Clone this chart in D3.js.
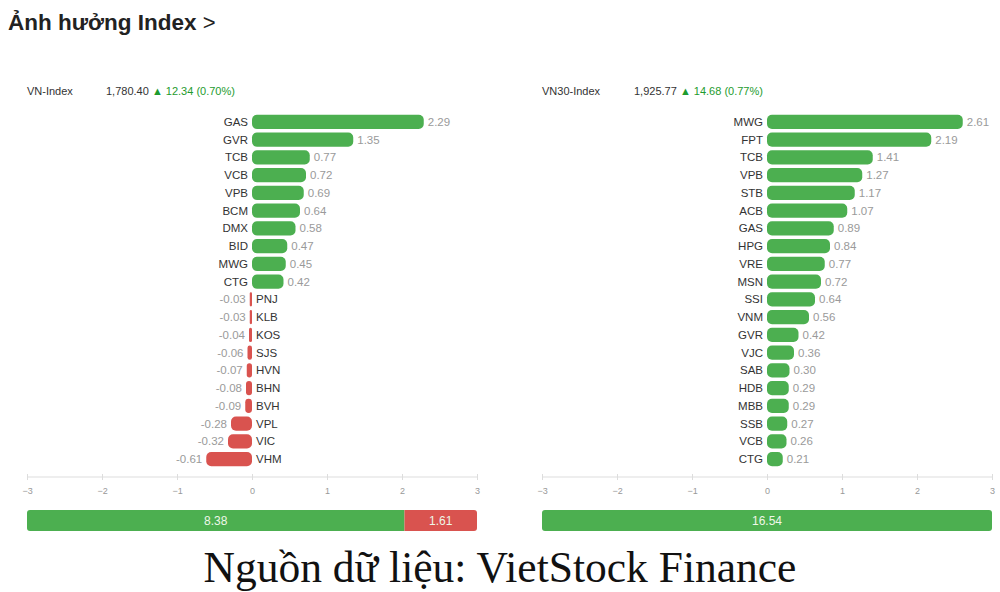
<!DOCTYPE html>
<html>
<head>
<meta charset="utf-8">
<script src="https://cdn.jsdelivr.net/npm/d3@7"></script>
<style>
  body { margin: 0; background: #fff; }
  svg { display: block; }
</style>
</head>
<body>
<svg id="chart" width="1000" height="592"></svg>
<script>
// VN-Index panel
const vnTickers = ["GAS", "GVR", "TCB", "VCB", "VPB", "BCM", "DMX", "BID", "MWG", "CTG",
  "PNJ", "KLB", "KOS", "SJS", "HVN", "BHN", "BVH", "VPL", "VIC", "VHM"];
const vnValues = [2.29, 1.35, 0.77, 0.72, 0.69, 0.64, 0.58, 0.47, 0.45, 0.42,
  -0.03, -0.03, -0.04, -0.06, -0.07, -0.08, -0.09, -0.28, -0.32, -0.61];
const vnHeader = ["VN-Index", "1,780.40", "12.34 (0.70%)"];
const vnTotals = [8.38, 1.61];

// VN30-Index panel
const vn30Tickers = ["MWG", "FPT", "TCB", "VPB", "STB", "ACB", "GAS", "HPG", "VRE", "MSN",
  "SSI", "VNM", "GVR", "VJC", "SAB", "HDB", "MBB", "SSB", "VCB", "CTG"];
const vn30Values = [2.61, 2.19, 1.41, 1.27, 1.17, 1.07, 0.89, 0.84, 0.77, 0.72,
  0.64, 0.56, 0.42, 0.36, 0.30, 0.29, 0.29, 0.27, 0.26, 0.21];
const vn30Header = ["VN30-Index", "1,925.77", "14.68 (0.77%)"];
const vn30Totals = [16.54, 0];

const axisTicks = [-3, -2, -1, 0, 1, 2, 3];

const GREEN = "#4caf50";
const RED = "#d9534f";
const FONT = "'Liberation Sans', Arial, sans-serif";

const svg = d3.select("#chart");

const title = svg.append("text")
  .attr("x", 8).attr("y", 30)
  .style("font-family", FONT).style("font-size", "22.5px").style("font-weight", "bold")
  .style("fill", "#222");
title.append("tspan").text("Ảnh hưởng Index ");
title.append("tspan").style("font-weight", "normal").style("font-size", "22px").text(">");

function panel(x0, tickers, values, header, totals, valueX) {
  const g = svg.append("g");
  const x = d3.scaleLinear().domain([-3, 3]).range([x0, x0 + 450]);
  const y = d3.scaleBand().domain(tickers).range([113, 468]).paddingInner(0.2).paddingOuter(0.1);
  const rows = tickers.map((t, i) => ({ t, v: values[i] }));

  // header line
  const hdr = g.append("text").attr("y", 95)
    .style("font-family", FONT).style("font-size", "11px");
  hdr.append("tspan").attr("x", x0).style("fill", "#333").text(header[0]);
  hdr.append("tspan").attr("x", valueX).style("fill", "#333").text(header[1] + " ");
  hdr.append("tspan").style("fill", "#1e9b2e").text("▲  " + header[2]);

  const row = g.selectAll("g.row").data(rows).join("g")
    .attr("class", "row")
    .attr("transform", (d) => `translate(0,${y(d.t)})`);

  row.append("rect")
    .attr("x", (d) => x(Math.min(0, d.v)))
    .attr("width", (d) => Math.abs(x(d.v) - x(0)))
    .attr("height", y.bandwidth())
    .attr("rx", (d) => Math.min(5, Math.abs(x(d.v) - x(0)) / 2))
    .style("fill", (d) => (d.v >= 0 ? GREEN : RED));

  const mid = y.bandwidth() / 2 + 4;
  row.append("text")
    .attr("x", (d) => (d.v >= 0 ? x(0) - 4 : x(0) + 4))
    .attr("y", mid)
    .attr("text-anchor", (d) => (d.v >= 0 ? "end" : "start"))
    .style("font-family", FONT).style("font-size", "11.5px").style("fill", "#333")
    .text((d) => d.t);

  row.append("text")
    .attr("x", (d) => (d.v >= 0 ? x(d.v) + 4 : x(d.v) - 4))
    .attr("y", mid)
    .attr("text-anchor", (d) => (d.v >= 0 ? "start" : "end"))
    .style("font-family", FONT).style("font-size", "11.5px").style("fill", "#9a9a9a")
    .text((d) => d.v.toFixed(2));

  // axis
  const axis = g.append("g").attr("transform", "translate(0,477)")
    .call(d3.axisBottom(x).tickValues(axisTicks).tickFormat(d3.format("d")).tickSize(5).tickPadding(6));
  axis.select(".domain").attr("stroke", "#ddd").attr("d", `M${x0},0H${x0 + 450}`);
  axis.selectAll(".tick line").attr("stroke", "#ddd").attr("y1", -3).attr("y2", 3);
  axis.selectAll(".tick text").style("font-family", FONT).style("font-size", "9px").style("fill", "#999");

  // summary bar
  const sum = totals[0] + totals[1];
  const s = d3.scaleLinear().domain([0, sum]).range([x0, x0 + 450]);
  const parts = [
    { v: totals[0], start: 0, color: GREEN },
    { v: totals[1], start: totals[0], color: RED },
  ].filter((p) => p.v > 0);
  const sg = g.append("g");
  sg.append("clipPath").attr("id", "clip" + x0)
    .append("rect").attr("x", x0).attr("y", 510).attr("width", 450).attr("height", 21).attr("rx", 3);
  sg.selectAll("rect.part").data(parts).join("rect")
    .attr("class", "part")
    .attr("clip-path", `url(#clip${x0})`)
    .attr("x", (p) => s(p.start))
    .attr("y", 510)
    .attr("width", (p) => s(p.start + p.v) - s(p.start))
    .attr("height", 21)
    .style("fill", (p) => p.color);
  sg.selectAll("text.part").data(parts).join("text")
    .attr("class", "part")
    .attr("x", (p) => (s(p.start) + s(p.start + p.v)) / 2)
    .attr("y", 524.5)
    .attr("text-anchor", "middle")
    .style("font-family", FONT).style("font-size", "12px")
    .style("fill", "#eef7e8")
    .text((p) => p.v.toFixed(2));
}

panel(27, vnTickers, vnValues, vnHeader, vnTotals, 106);
panel(542, vn30Tickers, vn30Values, vn30Header, vn30Totals, 634);

svg.append("text")
  .attr("x", 500).attr("y", 582)
  .attr("text-anchor", "middle")
  .style("font-family", "'Liberation Serif', 'Times New Roman', serif")
  .style("font-size", "43.5px").style("fill", "#111")
  .text("Nguồn dữ liệu: VietStock Finance");
</script>
</body>
</html>
